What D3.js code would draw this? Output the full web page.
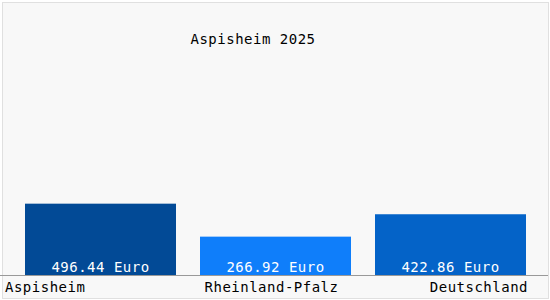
<!DOCTYPE html>
<html><head><meta charset="utf-8">
<script src="https://cdn.jsdelivr.net/npm/d3@7"></script>
<style>
html,body{margin:0;padding:0;background:#fff;}
svg text{font-family:"DejaVu Sans Mono",monospace;font-size:14px;letter-spacing:0.5px;}
</style></head>
<body>
<script>
const title = "Aspisheim 2025";
const categories = ["Aspisheim", "Rheinland-Pfalz", "Deutschland"];
const values = [496.44, 266.92, 422.86];
const valueLabels = ["496.44 Euro", "266.92 Euro", "422.86 Euro"];
const colors = ["#024a96", "#0f7efa", "#0463c8"];

const W = 550, H = 300;
const svg = d3.select("body").append("svg").attr("width", W).attr("height", H);

svg.append("rect").attr("x", 2.5).attr("y", 2.5).attr("width", W - 4).attr("height", H - 4)
  .attr("fill", "#f8f8f8").attr("stroke", "#e0e0e0").attr("stroke-width", 1);

const x = d3.scaleBand().domain(categories).range([25, 526]).paddingInner(24 / 175).paddingOuter(0);
const y = d3.scaleLinear().domain([0, 1740]).range([275, 25]);

svg.append("text").attr("x", 253).attr("y", 44).attr("text-anchor", "middle")
  .attr("fill", "#000").text(title);

svg.selectAll("rect.bar").data(values).join("rect").attr("class", "bar")
  .attr("x", (d, i) => x(categories[i]))
  .attr("width", x.bandwidth())
  .attr("y", d => y(d))
  .attr("height", d => y(0) - y(d))
  .attr("fill", (d, i) => colors[i]);

svg.selectAll("text.val").data(values).join("text").attr("class", "val")
  .attr("x", (d, i) => x(categories[i]) + x.bandwidth() / 2)
  .attr("y", y(0) - 3)
  .attr("text-anchor", "middle").attr("fill", "#fff")
  .text((d, i) => valueLabels[i]);

svg.append("line").attr("x1", 0).attr("x2", 548).attr("y1", 275.5).attr("y2", 275.5)
  .attr("stroke", "#999").attr("stroke-width", 1);

const anchors = ["start", "middle", "end"];
svg.selectAll("text.cat").data(categories).join("text").attr("class", "cat")
  .attr("x", (d, i) => i === 0 ? 5 : i === 2 ? x(d) + x.bandwidth() + 2 : x(d) + x.bandwidth() / 2 - 4)
  .attr("y", 292)
  .attr("text-anchor", (d, i) => anchors[i])
  .attr("fill", "#000").text(d => d);
</script>
</body></html>
